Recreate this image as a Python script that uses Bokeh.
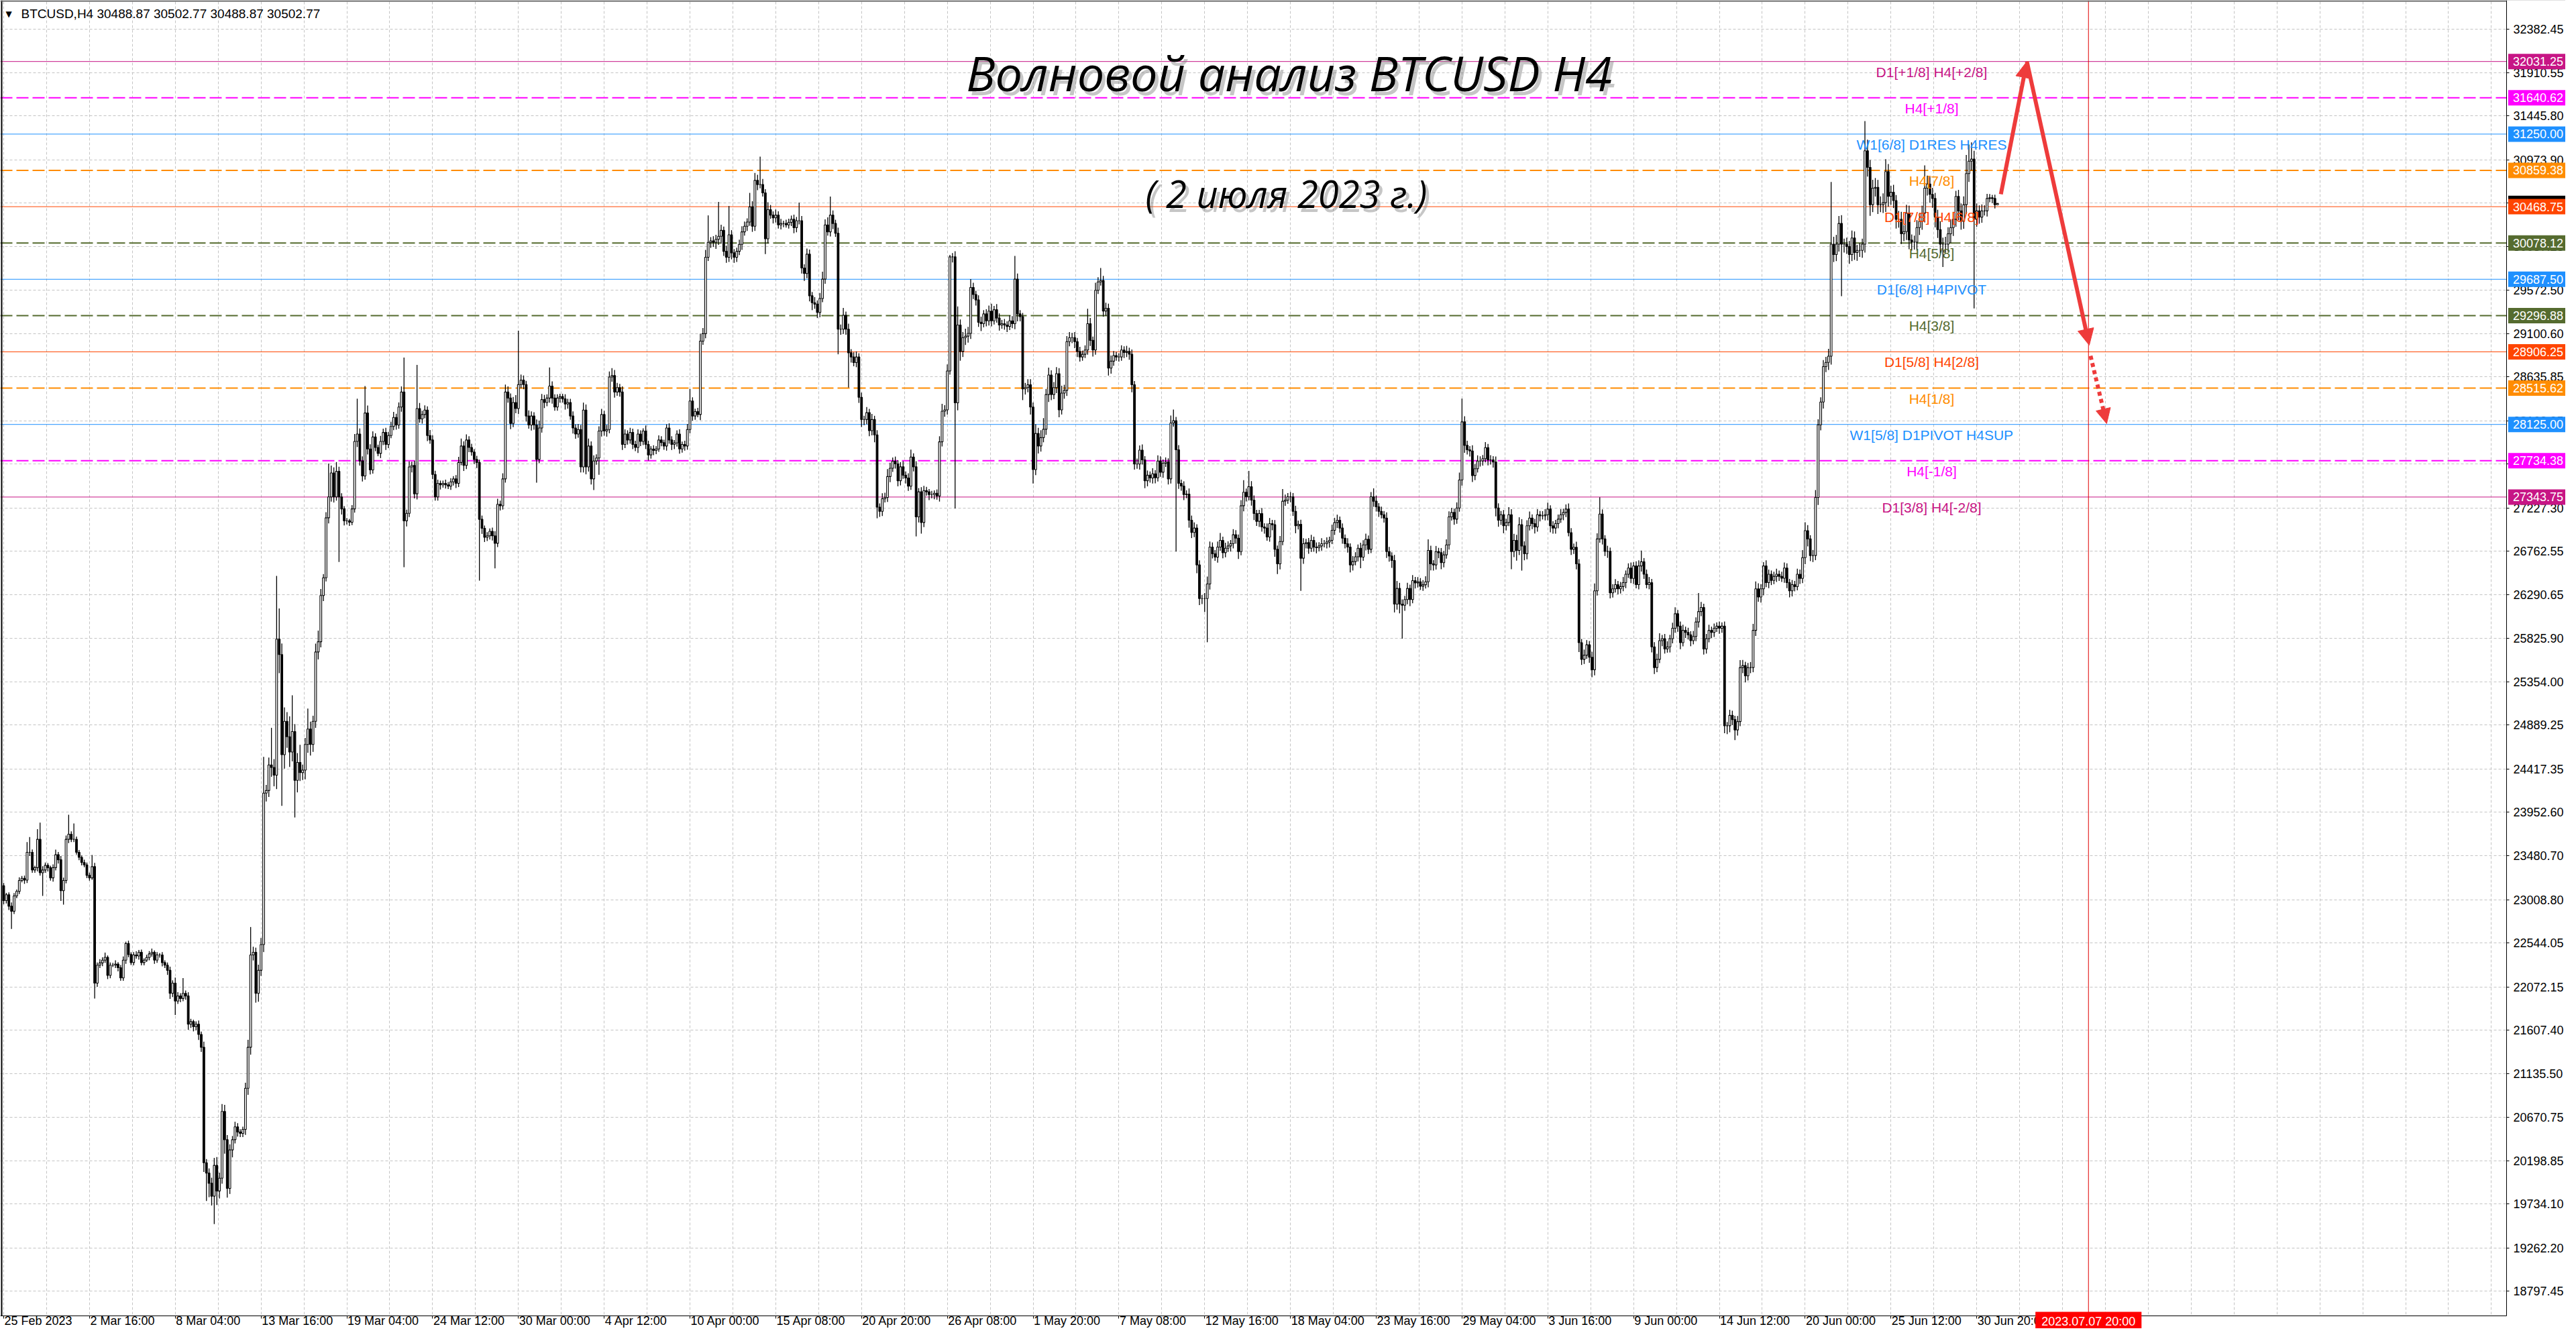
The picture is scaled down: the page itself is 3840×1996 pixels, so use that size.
import numpy as np
from bokeh.plotting import figure
from bokeh.models import (Range1d, FixedTicker, PrintfTickFormatter, Span, Label, BoxAnnotation,
                          Arrow, NormalHead, ColumnDataSource)
from bokeh.core.properties import value
from bokeh.embed import file_html
from bokeh.resources import INLINE

# ---------------- data ----------------
symbol = "BTCUSD"
timeframe = "H4"
first_open = 23160.0

# H4 closes, 25 Feb 2023 -> 2 Jul 2023 (open of each bar = previous close)
close_feb_mar = [
    23000, 23063, 22940, 22886, 23051, 23100, 23217, 23240, 23220, 23520,
    23520, 23330, 23355, 23660, 23300, 23330, 23380, 23355, 23245, 23355,
    23494, 23440, 23107, 23217, 23660, 23715, 23660, 23660, 23520, 23466,
    23410, 23385, 23272, 23245, 23366, 22112, 22305, 22330, 22360, 22390,
    22195, 22305, 22305, 22317, 22278, 22168, 22360, 22538, 22420, 22333,
    22416, 22405, 22444, 22333, 22360, 22388, 22427, 22444, 22360, 22416,
    22416, 22333, 22305, 22250, 22002, 22112, 21919, 21974, 21947, 22002,
    21974, 21670, 21698, 21643, 21670, 21560, 21422, 20179, 20068, 19958,
    19819, 20151, 19875, 20013, 20731, 20427, 19903, 20317, 20427, 20565,
    20510, 20495, 20538, 20980, 21422, 22416, 22444, 22002, 22250, 22527,
    24157, 24185, 24460, 24433, 24350, 25814, 25648, 24571, 24930, 24764,
    24599, 24820, 24295, 24488, 24378, 24405, 24681, 24847, 24681, 24930,
    25676, 25786, 26284]
close_mar_apr = [
    26475, 27120, 27345, 27603, 27345, 27620, 27345, 27216, 27088, 27088,
    27072, 27216, 27942, 28022, 27732, 27571, 28248, 27861, 27636, 27990,
    27877, 27813, 27942, 28039, 27910, 28006, 28103, 28200, 28119, 28312,
    28474, 27088, 27168, 27668, 27684, 27378, 28296, 28184, 28232, 28280,
    28006, 27958, 27587, 27345, 27491, 27475, 27491, 27475, 27460, 27507,
    27539, 27491, 27716, 27893, 27684, 27958, 27877, 27829, 27748, 27716,
    27104, 27007, 26910, 26926, 26975, 26926, 26846, 27265, 27249, 27539,
    28474, 28409, 28135, 28361, 28296, 28554, 28602, 28554, 28216, 28119,
    28216, 28119, 27748, 28087, 28393, 28361, 28409, 28538, 28409, 28312,
    28409, 28425, 28400, 28345, 28361, 28216, 28087, 28022, 28070, 27668,
    28280, 27668, 27893, 27539, 27732, 27764, 28054, 28232, 28054, 28070,
    28635, 28651, 28474, 28522, 28474, 27910, 28022, 27958, 28039, 27910,
    27877, 28022, 27942, 28054, 27910, 27797, 27861, 27845, 27861, 27958, 27930,
    27893, 28087, 27958, 27910, 27926, 28022, 27861, 27910, 27893, 28070,
    28377, 28216, 28264, 28232, 29022, 29102, 29924, 30085, 30101, 30085,
    30117, 30150, 30214, 29988, 29924, 30166, 29972, 29924]
close_apr_may = [
    29988, 30063, 30198, 30258, 30303, 30467, 30258, 30752, 30707, 30707,
    30617, 30123, 30437, 30378, 30348, 30378, 30273, 30288, 30288, 30273, 30300,
    30333, 30243, 30318, 30318, 29809, 29749, 29958, 29510, 29435, 29420,
    29330, 29480, 29689, 30273, 30198, 30378, 30288, 30183, 29150, 29150,
    29300, 29150, 28896, 28851, 28791, 28851, 28417, 28178, 28178, 28252,
    28058, 28178, 28013, 27235, 27190, 27325, 27340, 27564, 27654, 27729, 27700,
    27519, 27669, 27579, 27549, 27460, 27774, 27669, 27130, 27400, 27070,
    27414, 27400, 27370, 27370, 27385, 27355, 27938, 28267, 28282, 28701,
    29929, 29929, 28357, 29195, 28911, 29060, 29075, 29105, 29599, 29524,
    29465, 29225, 29210, 29315, 29240, 29345, 29240, 29360, 29270, 29195, 29210,
    29195, 29180, 29240, 29210, 29689, 29315, 29285, 28507, 28522, 28552,
    28312, 27639, 28028, 27893, 27983, 28073, 28447, 28657, 28447, 28522,
    28672, 28282, 28462, 28492, 29016, 29060, 29060, 29016, 28911, 28851, 28880,
    28926, 29210, 29030, 28926, 29569, 29659, 29674, 29345, 29375, 28731,
    28806, 28866, 28851, 28851, 28926, 28900, 28911, 28881, 28552, 27699, 27699,
    27849, 27744, 27519, 27579, 27549, 27594]
close_may_jun = [
    27551, 27732, 27611, 27708, 27720, 27539, 28141, 28165, 27852, 27491,
    27462, 27371, 27376, 27094, 26962, 27010, 26613, 26251, 26251, 26251,
    26408, 26805, 26733, 26697, 26805, 26877, 26745, 26793, 26817, 26841,
    26938, 26901, 26757, 27250, 27395, 27347, 27455, 27311, 27166, 27082,
    27166, 27022, 27010, 26913, 27058, 27046, 26781, 26625, 26865, 27299,
    27311, 27347, 27347, 27190, 27034, 27050, 26685, 26841, 26853, 26793, 26877,
    26805, 26798, 26817, 26841, 26841, 26860, 26877, 26986, 27070, 27094, 27010,
    26901, 26841, 26805, 26613, 26649, 26700, 26793, 26697, 26829, 26889, 26781,
    27347, 27299, 27238, 27190, 27154, 27118, 26757, 26709, 26661, 26192,
    26360, 26192, 26179, 26240, 26360, 26240, 26444, 26420, 26432, 26384, 26400,
    26432, 26769, 26625, 26613, 26757, 26745, 26637, 26721, 26829, 27130,
    27178, 27106, 27226, 27527, 28153, 27900, 27852, 27840, 27575, 27648,
    27732, 27732, 27756, 27876, 27744, 27744, 27720, 27226, 27094, 27154,
    27034, 27070, 27154, 26757, 26877, 26769, 27046, 26817, 26733, 27034,
    27118, 27058, 27022, 27154, 27142, 27142, 27154, 27214, 27034, 27010,
    27058, 27106, 27154, 27178, 27214]
close_jun_jul = [
    26960, 26781, 26803, 26625, 25776, 25597, 25642, 25754, 25619, 25485,
    26334, 26893, 27161, 26893, 26759, 26759, 26312, 26356, 26401, 26356, 26380,
    26423, 26513, 26580, 26468, 26602, 26401, 26602, 26647, 26513, 26401,
    26423, 25731, 25508, 25597, 25798, 25820, 25709, 25731, 25820, 25932,
    26088, 25954, 25776, 25909, 25887, 25860, 25798, 25843, 25999, 26111, 26155,
    25709, 25820, 25909, 25887, 25932, 25954, 25932, 25954, 24882, 24882,
    24994, 24949, 24837, 24927, 25508, 25530, 25419, 25508, 25508, 25909,
    26356, 26267, 26356, 26602, 26423, 26513, 26446, 26490, 26513, 26490, 26470,
    26580, 26423, 26334, 26401, 26379, 26513, 26468, 26692, 26982, 26893,
    26714, 26714, 27339, 28121, 28367, 28747, 28792, 28859, 30065, 29953,
    30065, 30288, 30065, 30065, 30040, 29953, 30132, 29976, 29998, 29998, 30065,
    31070, 30892, 30490, 30668, 30677, 30490, 30490, 30512, 30847, 30579,
    30624, 30534, 30333, 30333, 30177, 30200, 30400, 30110, 30087, 30087, 30244,
    30311, 30400, 30668, 30713, 30601, 30557, 30356, 30222, 30065, 30065,
    30065, 30177, 30244, 30333, 30579, 30423, 30311, 30490, 30825, 30958,
    30981, 30333, 30423, 30356, 30423, 30423, 30557, 30565, 30557, 30488.87, 30502.77]

# wick lengths above / below the body (USD)
upper_feb_mar = [
    30, 20, 25, 40, 30, 20, 35, 25, 30, 110, 165, 30, 20, 110, 180, 40, 30, 25, 20, 35,
    55, 30, 40, 30, 40, 210, 30, 170, 30, 25, 20, 30, 25, 30, 125, 40, 30, 40, 30, 50,
    20, 30, 25, 40, 20, 30, 40, 20, 30, 25, 30, 40, 25, 30, 20, 30, 30, 40, 20, 30,
    20, 30, 25, 30, 40, 30, 60, 40, 30, 165, 30, 40, 30, 20, 30, 40, 30, 60, 40, 50,
    60, 80, 90, 60, 80, 70, 50, 60, 40, 55, 40, 30, 30, 60, 80, 300, 60, 50, 60, 70,
    390, 60, 80, 400, 90, 680, 330, 120, 150, 100, 220, 390, 80, 100, 190, 60, 70, 220, 80, 60,
    90, 120, 70]
lower_feb_mar = [
    40, 30, 40, 190, 30, 25, 30, 20, 40, 30, 40, 30, 30, 40, 30, 250, 30, 40, 30, 40,
    30, 40, 110, 150, 30, 40, 30, 30, 25, 30, 30, 25, 30, 30, 20, 165, 40, 30, 35, 30,
    40, 30, 20, 30, 40, 30, 30, 40, 30, 25, 30, 30, 40, 30, 30, 20, 30, 30, 40, 30,
    30, 40, 30, 50, 60, 40, 150, 30, 40, 30, 40, 60, 40, 50, 40, 60, 50, 100, 300, 150,
    100, 300, 150, 80, 60, 150, 100, 60, 80, 40, 50, 40, 40, 60, 70, 80, 60, 100, 90, 60,
    80, 90, 70, 100, 120, 150, 200, 550, 150, 120, 160, 100, 400, 130, 90, 80, 100, 90, 120, 80,
    70, 80, 60]
upper_mar_apr = [
    40, 60, 360, 80, 60, 100, 50, 40, 30, 30, 20, 40, 80, 380, 60, 50, 290, 80, 50, 60,
    40, 30, 60, 40, 50, 40, 50, 60, 40, 50, 60, 370, 40, 60, 40, 50, 470, 60, 40, 50,
    40, 60, 50, 40, 40, 30, 30, 40, 30, 40, 30, 40, 60, 80, 50, 60, 40, 40, 30, 40,
    30, 40, 30, 40, 30, 40, 50, 60, 40, 60, 80, 60, 50, 60, 80, 580, 60, 50, 40, 60,
    50, 40, 60, 80, 60, 50, 40, 200, 50, 40, 40, 30, 30, 50, 40, 40, 50, 40, 60, 50,
    80, 60, 80, 50, 60, 40, 50, 60, 40, 50, 60, 80, 60, 50, 40, 60, 50, 40, 50, 40,
    40, 50, 40, 30, 60, 40, 30, 40, 30, 50, 40, 30, 40, 50, 40, 30, 40, 50, 30, 40, 60,
    130, 40, 30, 40, 80, 60, 80, 290, 40, 50, 50, 370, 60, 40, 60, 310, 50, 40]
lower_mar_apr = [
    60, 40, 60, 50, 60, 40, 700, 60, 50, 40, 40, 30, 40, 60, 50, 60, 40, 60, 50, 40,
    40, 30, 50, 40, 60, 40, 30, 40, 50, 40, 50, 500, 60, 40, 60, 50, 60, 40, 50, 40,
    60, 40, 50, 40, 40, 50, 30, 40, 30, 40, 40, 50, 40, 30, 60, 40, 50, 40, 50, 60,
    660, 60, 50, 40, 40, 50, 270, 40, 50, 40, 40, 50, 60, 40, 50, 60, 40, 50, 60, 40,
    60, 50, 250, 40, 50, 60, 40, 50, 60, 40, 40, 50, 40, 60, 50, 40, 60, 50, 40, 60,
    60, 80, 50, 60, 120, 40, 180, 60, 50, 60, 40, 50, 60, 40, 50, 60, 40, 50, 40, 50,
    40, 60, 50, 40, 50, 60, 40, 50, 40, 30, 40, 40, 50, 40, 60, 50, 40, 50, 40, 50, 40,
    40, 50, 40, 30, 60, 40, 50, 40, 60, 50, 70, 60, 80, 50, 60, 50, 70, 60]
upper_apr_may = [
    40, 50, 60, 50, 40, 150, 60, 80, 60, 300, 60, 40, 80, 50, 40, 60, 40, 50, 30, 40, 40,
    40, 50, 40, 195, 50, 40, 60, 50, 40, 60, 40, 60, 80, 60, 80, 200, 50, 40, 60, 50,
    80, 40, 60, 40, 50, 60, 40, 50, 40, 60, 40, 60, 40, 50, 40, 60, 50, 80, 60, 40, 50,
    40, 50, 60, 40, 50, 80, 40, 60, 40, 50, 50, 40, 30, 40, 30, 40, 60, 80, 50, 70,
    20, 40, 60, 200, 60, 60, 80, 70, 90, 50, 40, 50, 60, 40, 50, 60, 80, 40, 60, 50, 40,
    50, 40, 60, 50, 250, 60, 40, 40, 50, 60, 60, 50, 100, 60, 80, 120, 60, 80, 50, 60,
    70, 60, 80, 60, 60, 60, 50, 60, 40, 50, 40, 50, 160, 60, 40, 80, 50, 135, 50, 60, 50,
    60, 50, 40, 40, 50, 40, 60, 40, 50, 40, 60, 50, 60, 40, 50, 40, 60]
lower_apr_may = [
    50, 40, 60, 40, 50, 40, 60, 50, 60, 40, 40, 165, 50, 40, 60, 50, 40, 50, 40, 30, 40,
    40, 60, 50, 40, 60, 80, 50, 60, 80, 50, 60, 50, 40, 50, 40, 50, 60, 40, 270, 60,
    50, 60, 374, 60, 40, 50, 60, 80, 60, 50, 60, 50, 80, 120, 60, 50, 40, 50, 60, 40, 50,
    60, 50, 40, 60, 50, 40, 50, 210, 60, 120, 50, 40, 60, 40, 50, 40, 60, 50, 60, 50,
    40, 60, 1137, 80, 100, 60, 80, 70, 60, 50, 60, 50, 80, 40, 60, 50, 60, 40, 50, 60, 40,
    50, 60, 40, 50, 60, 80, 50, 120, 60, 50, 80, 150, 60, 80, 60, 50, 60, 80, 60, 50,
    60, 80, 50, 60, 60, 50, 60, 70, 60, 50, 40, 40, 50, 60, 70, 50, 40, 40, 60, 50, 80,
    60, 50, 40, 50, 40, 60, 50, 60, 80, 60, 50, 60, 50, 80, 60, 50, 60]
upper_may_jun = [
    40, 60, 50, 40, 50, 40, 80, 120, 40, 50, 40, 50, 40, 60, 50, 60, 40, 50, 40, 60,
    80, 60, 50, 40, 60, 80, 40, 60, 50, 40, 60, 50, 40, 60, 130, 40, 170, 60, 50, 40,
    40, 60, 40, 50, 60, 40, 50, 40, 60, 130, 60, 40, 50, 40, 60, 40, 50, 60, 40, 50, 60,
    40, 50, 40, 60, 40, 50, 40, 60, 50, 60, 40, 50, 40, 60, 40, 60, 50, 40, 60, 50, 60, 40,
    50, 90, 60, 40, 50, 40, 60, 50, 40, 60, 80, 60, 50, 40, 60, 40, 60, 40, 50, 40, 50,
    60, 120, 50, 40, 60, 40, 50, 40, 60, 60, 50, 40, 60, 80, 250, 60, 50, 40, 60, 50,
    60, 50, 40, 60, 40, 50, 40, 60, 50, 40, 50, 40, 80, 60, 70, 60, 80, 60, 50, 60,
    70, 40, 50, 60, 40, 50, 60, 70, 40, 50, 40, 50, 60, 40, 50]
lower_may_jun = [
    60, 40, 50, 60, 40, 60, 50, 40, 1095, 60, 50, 60, 40, 80, 60, 50, 90, 70, 60, 144,
    470, 60, 50, 40, 60, 40, 60, 50, 40, 60, 50, 60, 80, 40, 60, 50, 40, 60, 70, 50,
    60, 50, 60, 40, 50, 60, 80, 110, 60, 40, 50, 40, 60, 50, 80, 40, 350, 60, 50, 60, 40,
    50, 60, 40, 50, 40, 50, 60, 40, 50, 60, 50, 60, 50, 60, 80, 60, 40, 50, 120, 40, 60, 50,
    40, 60, 50, 60, 40, 50, 70, 60, 80, 90, 60, 100, 360, 60, 50, 70, 40, 60, 50, 40, 50,
    40, 60, 70, 60, 50, 60, 70, 50, 40, 50, 40, 60, 50, 40, 60, 80, 50, 60, 70, 50,
    40, 60, 50, 40, 60, 50, 60, 90, 70, 50, 80, 50, 40, 190, 60, 110, 50, 265, 70, 60,
    50, 60, 70, 50, 60, 40, 50, 60, 70, 60, 60, 50, 40, 60, 50]
upper_jun_jul = [
    60, 50, 40, 60, 50, 40, 60, 50, 40, 60, 80, 60, 180, 50, 40, 60, 40, 50, 60, 40, 50,
    60, 40, 50, 60, 40, 50, 60, 120, 40, 50, 60, 40, 50, 60, 80, 40, 50, 60, 40, 60,
    70, 40, 50, 60, 40, 50, 40, 60, 50, 200, 60, 40, 50, 60, 40, 50, 40, 50, 40, 50, 40,
    60, 50, 40, 60, 80, 60, 40, 50, 60, 70, 80, 60, 50, 40, 60, 50, 40, 50, 60, 40, 50,
    60, 50, 40, 50, 40, 60, 50, 80, 90, 60, 40, 60, 80, 60, 50, 70, 60, 80, 670, 80,
    100, 80, 90, 60, 70, 60, 80, 70, 60, 80, 60, 320, 120, 80, 90, 100, 80, 90, 100, 134, 80,
    70, 80, 60, 90, 80, 70, 90, 80, 60, 70, 80, 90, 80, 245, 90, 80, 70, 60, 80, 90, 70,
    80, 70, 90, 80, 60, 70, 80, 90, 200, 180, 180, 90, 80, 60, 70, 60, 50, 40, 30, 40, 0]
lower_jun_jul = [
    40, 60, 50, 60, 100, 60, 50, 40, 60, 80, 60, 50, 40, 60, 50, 70, 60, 50, 40, 60, 50,
    50, 60, 40, 50, 60, 40, 50, 60, 50, 40, 50, 60, 70, 50, 40, 60, 50, 40, 60, 50,
    50, 60, 70, 40, 60, 50, 60, 40, 50, 60, 50, 60, 50, 40, 60, 50, 40, 60, 50, 80, 90,
    70, 60, 110, 60, 50, 60, 70, 50, 60, 50, 60, 50, 60, 70, 50, 60, 50, 40, 60, 50, 40,
    50, 60, 70, 60, 50, 40, 60, 50, 70, 80, 60, 70, 50, 80, 60, 70, 60, 80, 90, 80,
    70, 80, 560, 90, 80, 100, 70, 80, 90, 70, 80, 90, 100, 120, 80, 90, 100, 80, 90, 100, 110,
    90, 80, 100, 90, 110, 80, 90, 100, 90, 80, 90, 80, 90, 100, 80, 90, 100, 110, 90, 100, 245,
    90, 80, 100, 90, 80, 100, 90, 80, 100, 90, 100, 960, 80, 70, 60, 50, 60, 40, 50, 40, 0]

# right price scale
price_ticks = [32382.45, 31910.55, 31445.80, 30973.90, 30509.15, 30037.25, 29572.50,
               29100.60, 28635.85, 28163.95, 27699.20, 27227.30, 26762.55, 26290.65,
               25825.90, 25354.00, 24889.25, 24417.35, 23952.60, 23480.70, 23008.80,
               22544.05, 22072.15, 21607.40, 21135.50, 20670.75, 20198.85, 19734.10,
               19262.20, 18797.45]
# time scale labels (bar index of each label)
time_label_bars = [0, 33, 66, 99, 132, 165, 198, 231, 264, 297, 330, 363, 396, 429,
                   462, 495, 528, 561, 594, 627, 660, 693, 726, 759]
time_labels = ["25 Feb 2023", "2 Mar 16:00", "8 Mar 04:00", "13 Mar 16:00", "19 Mar 04:00",
               "24 Mar 12:00", "30 Mar 00:00", "4 Apr 12:00", "10 Apr 00:00", "15 Apr 08:00",
               "20 Apr 20:00", "26 Apr 08:00", "1 May 20:00", "7 May 08:00", "12 May 16:00",
               "18 May 04:00", "23 May 16:00", "29 May 04:00", "3 Jun 16:00", "9 Jun 00:00",
               "14 Jun 12:00", "20 Jun 00:00", "25 Jun 12:00", "30 Jun 20:00"]

# Murrey-math levels
levels = [32031.25, 31640.62, 31250.00, 30859.38, 30468.75, 30078.12, 29687.50,
          29296.88, 28906.25, 28515.62, 28125.00, 27734.38, 27343.75]
level_names = ["D1[+1/8] H4[+2/8]", "H4[+1/8]", "W1[6/8] D1RES H4RES", "H4[7/8]",
               "D1[7/8] H4[6/8]", "H4[5/8]", "D1[6/8] H4PIVOT", "H4[3/8]",
               "D1[5/8] H4[2/8]", "H4[1/8]", "W1[5/8] D1PIVOT H4SUP", "H4[-1/8]",
               "D1[3/8] H4[-2/8]"]
level_colors = ["#C71585", "#FF00FF", "#1E90FF", "#FF8C00", "#FF4500", "#556B2F", "#1E90FF",
                "#556B2F", "#FF4500", "#FF8C00", "#1E90FF", "#FF00FF", "#C71585"]
level_dashed = [False, True, False, True, False, True, False, True, False, True, False, True, False]

# forecast
forecast_date_bar = 802
forecast_date_text = "2023.07.07 20:00"
forecast_bars = [768.3, 778.3, 802.3]
forecast_prices = [30603, 32031, 28978]
forecast_tail_bars = [802.8, 809.0]
forecast_tail_prices = [28863, 28134]

title_text = "Волновой анализ BTCUSD H4"
subtitle_text = "( 2 июля 2023 г.)"

# ---------------- build ----------------
closes = close_feb_mar + close_mar_apr + close_apr_may + close_may_jun + close_jun_jul
uppers = upper_feb_mar + upper_mar_apr + upper_apr_may + upper_may_jun + upper_jun_jul
lowers = lower_feb_mar + lower_mar_apr + lower_apr_may + lower_may_jun + lower_jun_jul
n = min(len(closes), len(uppers), len(lowers))
cl = np.array(closes[:n], dtype=float)
op = np.concatenate([[first_open], cl[:-1]])
top = np.maximum(op, cl)
bot = np.minimum(op, cl)
hi = top + np.array(uppers[:n], dtype=float)
lo = bot - np.array(lowers[:n], dtype=float)
idx = np.arange(n)

# geometry (pixels of the terminal window)
FW, FH = 3824, 1980
bar_px = 3.875              # pixels per H4 bar
bar0_px = 5.0               # x pixel of first bar
ppx = 7.22                  # price units per pixel
ref_price, ref_py = 25354.0, 1016.0
axis_px, axis_py = 3736.0, 1961.0   # price-scale line x / time-scale line y

x_start = -bar0_px / bar_px
x_end = x_start + FW / bar_px
y_end = ref_price + ref_py * ppx
y_start = y_end - FH * ppx
axis_x = (axis_px - bar0_px) / bar_px
axis_y = ref_price - (axis_py - ref_py) * ppx

p = figure(width=FW, height=FH, output_backend="svg", toolbar_location=None,
           x_range=Range1d(x_start, x_end), y_range=Range1d(y_start, y_end),
           y_axis_location="right", min_border=0, min_border_left=0, min_border_top=0,
           min_border_right=0, min_border_bottom=0, title=None,
           background_fill_color="white", border_fill_color="white")
p.outline_line_color = None

# grid
p.ygrid.ticker = FixedTicker(ticks=price_ticks)
p.xgrid.ticker = FixedTicker(ticks=[16.5 * k for k in range(60)])
for g in (p.xgrid, p.ygrid):
    g.grid_line_color = "#C4C4C4"
    g.grid_line_dash = "4 3"
    g.grid_line_width = 1

# axes, pinned to the chart border
ya = p.yaxis[0]
ya.fixed_location = axis_x
ya.bounds = (axis_y, y_end)
ya.ticker = FixedTicker(ticks=price_ticks)
ya.formatter = PrintfTickFormatter(format="%.2f")
ya.major_label_text_font = "Liberation Sans"
ya.major_label_text_font_size = "18px"
ya.major_label_text_color = "black"
ya.major_tick_out = 4
ya.major_tick_in = 0
ya.minor_tick_out = 0
ya.minor_tick_in = 0
ya.major_label_standoff = 6
ya.axis_line_color = "black"
ya.major_tick_line_color = "black"

xa = p.xaxis[0]
xa.fixed_location = axis_y
xa.bounds = (x_start, axis_x)
xa.ticker = FixedTicker(ticks=time_label_bars)
xa.major_label_overrides = {b: "" for b in time_label_bars}
xa.major_tick_out = 4
xa.major_tick_in = 0
xa.minor_tick_out = 0
xa.minor_tick_in = 0
xa.axis_line_color = "black"

# level lines + forecast date line
for lv, col, dsh in zip(levels, level_colors, level_dashed):
    p.add_layout(Span(location=lv, dimension="width", line_color=col,
                      line_width=2 if dsh else 1, line_dash="18 6" if dsh else "solid",
                      level="underlay"))
p.add_layout(Span(location=forecast_date_bar, dimension="height", line_color="#E00000",
                  line_width=1, level="underlay"))
# window border (left / top)
p.add_layout(Span(location=x_start + 2 / bar_px, dimension="height", line_color="black",
                  line_width=2, level="underlay"))
p.add_layout(Span(location=y_end - 1 * ppx, dimension="width", line_color="#606060",
                  line_width=2, level="underlay"))
# blank the scale areas outside the chart
p.add_layout(BoxAnnotation(left=axis_x, fill_color="white", fill_alpha=1.0,
                           line_color=None, level="underlay"))
p.add_layout(BoxAnnotation(top=axis_y, right=axis_x, fill_color="white", fill_alpha=1.0,
                           line_color=None, level="underlay"))

# candles
src = ColumnDataSource(dict(x=idx, top=top, bot=bot, hi=hi, lo=lo,
                            fill=["white" if c >= o else "black" for o, c in zip(op, cl)]))
p.segment(x0="x", y0="lo", x1="x", y1="hi", source=src, line_color="black", line_width=1.3)
p.vbar(x="x", width=0.7, top="top", bottom="bot", source=src, fill_color="fill",
       line_color="black", line_width=1.1)

# level texts
label_x = (2879 - bar0_px) / bar_px
lab = ColumnDataSource(dict(x=[label_x] * len(levels), y=[lv - 4 * ppx for lv in levels],
                            text=level_names, color=level_colors))
p.text(x="x", y="y", text="text", text_color="color", source=lab, text_align="center",
       text_baseline="top", text_font=value("Liberation Sans"), text_font_size="21px")

# forecast arrows
acol = "#EE3B3B"
for i in range(len(forecast_bars) - 1):
    p.add_layout(Arrow(end=NormalHead(size=24, fill_color=acol, line_color=acol),
                       x_start=forecast_bars[i], y_start=forecast_prices[i],
                       x_end=forecast_bars[i + 1], y_end=forecast_prices[i + 1],
                       line_color=acol, line_width=6))
p.add_layout(Arrow(end=NormalHead(size=22, fill_color=acol, line_color=acol),
                   x_start=forecast_tail_bars[0], y_start=forecast_tail_prices[0],
                   x_end=forecast_tail_bars[1], y_end=forecast_tail_prices[1],
                   line_color=acol, line_width=6, line_dash="6 5"))

# titles (screen units measured from the bottom-left corner)
for dx, dy, colr, alpha in [(5, -6, "#808080", 0.45), (0, 0, "black", 1.0)]:
    p.add_layout(Label(x=1921 + dx, y=FH - 107 + dy, x_units="screen", y_units="screen",
                       text=title_text, text_font="Open Sans", text_font_style="italic",
                       text_font_size="72px", text_align="center", text_baseline="middle",
                       text_color=colr, text_alpha=alpha))
    p.add_layout(Label(x=1917 + dx, y=FH - 287 + dy, x_units="screen", y_units="screen",
                       text=subtitle_text, text_font="Open Sans", text_font_style="italic",
                       text_font_size="56px", text_align="center", text_baseline="middle",
                       text_color=colr, text_alpha=alpha))

# header
p.add_layout(Label(x=8, y=FH - 20, x_units="screen", y_units="screen", text="▼",
                   text_font="DejaVu Sans", text_font_size="12px", text_baseline="middle",
                   text_color="black"))
header = f"{symbol},{timeframe}  {op[-1]:.2f} {hi[-1]:.2f} {lo[-1]:.2f} {cl[-1]:.2f}"
p.add_layout(Label(x=31, y=FH - 20, x_units="screen", y_units="screen", text=header,
                   text_font="Liberation Sans", text_font_size="19px", text_baseline="middle",
                   text_color="black"))

# time labels (left aligned at their ticks, like the terminal)
for b, t in zip(time_label_bars, time_labels):
    p.add_layout(Label(x=b, y=2, x_units="data", y_units="screen", text=t, x_offset=1,
                       text_font="Liberation Sans", text_font_size="18px",
                       text_align="left", text_baseline="bottom", text_color="black"))
p.add_layout(Label(x=forecast_date_bar, y=FH - 1969, x_units="data", y_units="screen",
                   text=forecast_date_text, text_font="Liberation Sans", text_font_size="18px",
                   text_align="center", text_baseline="middle", text_color="white",
                   background_fill_color="#FF0000",
                   padding=dict(left=9, right=9, top=4, bottom=4)))

# price boxes on the right scale
box_prices = [float(cl[-1])] + levels
box_colors = ["black"] + level_colors
for pr, col in zip(box_prices, box_colors):
    p.add_layout(Label(x=axis_px + 2.5, y=pr, x_units="screen", y_units="data",
                       text=f"{pr:.2f}", text_font="Liberation Sans", text_font_size="18px",
                       text_align="left", text_baseline="middle", text_color="white",
                       background_fill_color=col,
                       padding=dict(left=7, right=3, top=5, bottom=5)))

open("out.html", "w", encoding="utf-8").write(file_html(p, INLINE))
